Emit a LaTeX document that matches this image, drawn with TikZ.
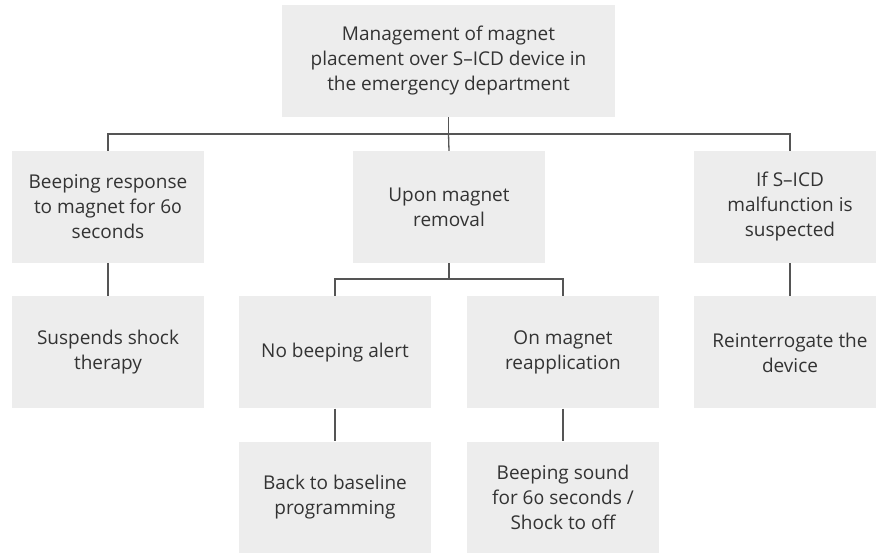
\documentclass[tikz,border=0pt]{standalone}
\usepackage{fontspec}
\setmainfont{Open Sans}[Numbers=OldStyle]
\definecolor{boxfill}{HTML}{EDEDED}
\definecolor{linecol}{HTML}{555555}
\definecolor{txtcol}{HTML}{333333}
\begin{document}
\begin{tikzpicture}[x=1pt,y=-1pt,
  box/.style={fill=boxfill,draw=none,minimum width=192pt,minimum height=112pt,
    align=center,inner sep=0pt,text=txtcol,font=\fontsize{19}{25}\selectfont},
  conn/.style={draw=linecol,line width=1.3pt}]
\useasboundingbox (0,0) rectangle (876,553);
\clip (0,0) rectangle (876,553);
\node[box,minimum width=333pt] (top) at (448.5,61) {Management of magnet\\placement over S–ICD device in\\the emergency department};
\node[box] (l2a) at (108,207) {Beeping response\\to magnet for 60\\seconds};
\node[box] (l2b) at (449,207) {Upon magnet\\removal};
\node[box] (l2c) at (790,207) {If S–ICD\\malfunction is\\suspected};
\node[box] (l3a) at (108,352.5) {Suspends shock\\therapy};
\node[box] (l3b) at (335,352.5) {No beeping alert};
\node[box] (l3c) at (563,352.5) {On magnet\\reapplication};
\node[box] (l3d) at (790,352.5) {Reinterrogate the\\device};
\node[box] (l4b) at (335,497.5) {Back to baseline\\programming};
\node[box] (l4c) at (563,497.5) {Beeping sound\\for 60 seconds /\\Shock to off};
\coordinate (bus1) at (448.5,134);
\coordinate (bus2) at (449,279);
\draw[conn] (top.south) -- (bus1);
\draw[conn] (bus1) -| (l2a.north);
\draw[conn] (bus1) -| (l2c.north);
\draw[conn] (bus1) -- (l2b.north);
\draw[conn] (l2b.south) -- (bus2);
\draw[conn] (bus2) -| (l3b.north);
\draw[conn] (bus2) -| (l3c.north);
\draw[conn] (l2a.south) -- (l3a.north);
\draw[conn] (l2c.south) -- (l3d.north);
\draw[conn] (l3b.south) -- (l4b.north);
\draw[conn] (l3c.south) -- (l4c.north);
\end{tikzpicture}
\end{document}
